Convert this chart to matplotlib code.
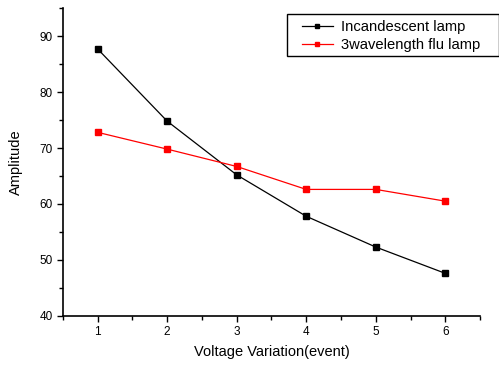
import matplotlib.pyplot as plt
from matplotlib.patches import Rectangle
from matplotlib.ticker import MultipleLocator

plt.rcParams['font.family'] = ['Liberation Sans', 'DejaVu Sans']

# data
events = [1, 2, 3, 4, 5, 6]
incandescent = [87.7, 74.8, 65.2, 57.8, 52.3, 47.6]
flu_lamp = [72.8, 69.8, 66.7, 62.6, 62.6, 60.5]

W, H = 499, 369
fig = plt.figure(figsize=(W / 100, H / 100), dpi=100)
ax = fig.add_axes([0.126, 0.144, 0.836, 0.834])

ax.plot(events, incandescent, color="black", marker="s", markersize=5,
        linewidth=0.9, label="Incandescent lamp")
ax.plot(events, flu_lamp, color="red", marker="s", markersize=5,
        linewidth=0.9, label="3wavelength flu lamp")

ax.set_xlim(0.5, 6.5)
ax.set_ylim(40, 95)
ax.xaxis.set_major_locator(MultipleLocator(1))
ax.xaxis.set_minor_locator(MultipleLocator(0.5))
ax.yaxis.set_major_locator(MultipleLocator(10))
ax.yaxis.set_minor_locator(MultipleLocator(5))
ax.tick_params(which="major", length=4, width=1, labelsize=8.5)
ax.tick_params(which="minor", length=3, width=1)

for s in ["top", "right"]:
    ax.spines[s].set_visible(False)
for s in ["left", "bottom"]:
    ax.spines[s].set_linewidth(1.2)

ax.set_xlabel("Voltage Variation(event)", fontsize=10.5, labelpad=5)
ax.set_ylabel("Amplitude", fontsize=10.5, labelpad=12)

# legend box drawn by hand (wider padding on the sides like the original)
fig.patches.append(Rectangle((287 / W, 1 - 56 / H), 212 / W, 42 / H,
                             transform=fig.transFigure, fill=False,
                             edgecolor="black", linewidth=1))
ax.legend(loc="upper left", bbox_to_anchor=(291 / W, 1 - 9 / H),
          bbox_transform=fig.transFigure, fontsize=10.6, frameon=False,
          handlelength=2.04, handletextpad=0.6, borderpad=0.28,
          labelspacing=0.25, markerscale=0.7)

fig.savefig("out.png", dpi=100)
